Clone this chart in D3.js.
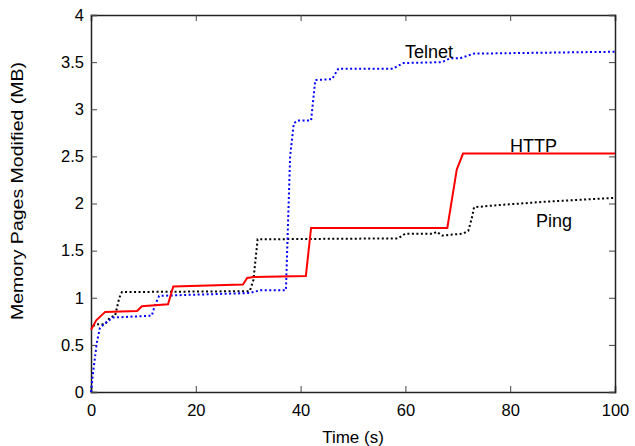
<!DOCTYPE html>
<html>
<head>
<meta charset="utf-8">
<script src="https://cdn.jsdelivr.net/npm/d3@7"></script>
<style>
  body { margin: 0; background: #fff; }
  svg { font-family: "Liberation Sans", Arial, sans-serif; }
</style>
</head>
<body>
<div id="chart"></div>
<script>
// values
var telnetTime = [0, 0.3, 1.1, 1.7, 2.7, 4.2, 11.6, 12.2, 13, 18.3, 30.3, 32.3, 37.2, 38, 38.7, 39.4, 42, 42.8, 46, 47.2, 57.6, 59.6, 67, 68.5, 70.4, 73, 100];
var telnetMB   = [0, 0.16, 0.52, 0.68, 0.73, 0.79, 0.81, 0.92, 1.02, 1.03, 1.05, 1.08, 1.08, 2.5, 2.85, 2.88, 2.88, 3.31, 3.32, 3.43, 3.43, 3.49, 3.5, 3.54, 3.54, 3.59, 3.61];

var httpTime = [0, 1, 2.7, 8.8, 9.7, 14.7, 15.7, 29, 29.8, 31, 41, 42, 68, 69.8, 71, 100];
var httpMB   = [0.66, 0.76, 0.85, 0.86, 0.91, 0.93, 1.12, 1.14, 1.21, 1.22, 1.23, 1.74, 1.74, 2.36, 2.53, 2.53];

var pingTime = [0.4, 1, 2.7, 3.6, 4.6, 5.4, 5.9, 30.3, 31, 31.8, 58.6, 60, 65.3, 66, 67, 71, 72, 72.7, 73.1, 77, 87, 100];
var pingMB   = [0.7, 0.72, 0.72, 0.79, 0.81, 1.0, 1.06, 1.07, 1.19, 1.62, 1.63, 1.68, 1.68, 1.70, 1.66, 1.68, 1.71, 1.85, 1.96, 1.98, 2.02, 2.06];

var xTicks = [0, 20, 40, 60, 80, 100];
var yTicks = [0, 0.5, 1, 1.5, 2, 2.5, 3, 3.5, 4];

var W = 635, H = 446;
var margin = {top: 15, right: 20, bottom: 54, left: 91};
var w = W - margin.left - margin.right,
    h = H - margin.top - margin.bottom;

var svg = d3.select("#chart")
    .append("svg")
    .attr("width", W)
    .attr("height", H)
  .append("g")
    .attr("transform", "translate(" + margin.left + "," + margin.top + ")");

var x = d3.scaleLinear().domain([0, 100]).range([0, w]);
var y = d3.scaleLinear().domain([0, 4]).range([h, 0]);

var fmtY = function(d) { return d === 0 ? "0" : String(d); };

// axes with inward ticks, mirrored on top and right
svg.append("g")
    .attr("class", "x axis")
    .attr("transform", "translate(0," + h + ")")
    .call(d3.axisBottom(x).tickValues(xTicks).tickSize(-6).tickPadding(12).tickFormat(d3.format("d")));

svg.append("g")
    .attr("class", "x2 axis")
    .call(d3.axisTop(x).tickValues(xTicks).tickSize(-6).tickFormat(""));

svg.append("g")
    .attr("class", "y axis")
    .call(d3.axisLeft(y).tickValues(yTicks).tickSize(-6).tickPadding(7).tickFormat(fmtY));

svg.append("g")
    .attr("class", "y2 axis")
    .attr("transform", "translate(" + w + ",0)")
    .call(d3.axisRight(y).tickValues(yTicks).tickSize(-6).tickFormat(""));

svg.selectAll(".axis .domain").attr("stroke", "#222").attr("stroke-width", 1.5);
svg.selectAll(".axis line").attr("stroke", "#444").attr("stroke-width", 1);
svg.selectAll(".axis text").attr("fill", "#000").style("font-size", "16.5px")
    .style("font-family", "\"Liberation Sans\", Arial, sans-serif");

var line = d3.line()
    .x(function(d) { return x(d[0]); })
    .y(function(d) { return y(d[1]); });

function series(t, v) {
  return t.map(function(d, i) { return [d, v[i]]; });
}

svg.append("path")
    .datum(series(pingTime, pingMB))
    .attr("fill", "none")
    .attr("stroke", "#000")
    .attr("stroke-width", 2)
    .attr("stroke-dasharray", "2,2.5")
    .attr("d", line);

svg.append("path")
    .datum(series(telnetTime, telnetMB))
    .attr("fill", "none")
    .attr("stroke", "#0000ff")
    .attr("stroke-width", 2)
    .attr("stroke-dasharray", "2,2.5")
    .attr("d", line);

svg.append("path")
    .datum(series(httpTime, httpMB))
    .attr("fill", "none")
    .attr("stroke", "#ff0000")
    .attr("stroke-width", 2)
    .attr("d", line);

// in-plot labels
svg.append("text").attr("x", 405 - margin.left).attr("y", 58 - margin.top)
    .style("font-size", "18px").text("Telnet");
svg.append("text").attr("x", 510 - margin.left).attr("y", 152 - margin.top)
    .style("font-size", "18px").text("HTTP");
svg.append("text").attr("x", 536 - margin.left).attr("y", 227 - margin.top)
    .style("font-size", "18px").text("Ping");

// axis titles
svg.append("text")
    .attr("x", w / 2)
    .attr("y", h + 51)
    .attr("text-anchor", "middle")
    .style("font-size", "17px")
    .text("Time (s)");

svg.append("text")
    .attr("transform", "rotate(-90)")
    .attr("x", -(191 - margin.top))
    .attr("y", -margin.left + 23)
    .attr("text-anchor", "middle")
    .attr("textLength", 258)
    .attr("lengthAdjust", "spacingAndGlyphs")
    .style("font-size", "17px")
    .text("Memory Pages Modified (MB)");
</script>
</body>
</html>
